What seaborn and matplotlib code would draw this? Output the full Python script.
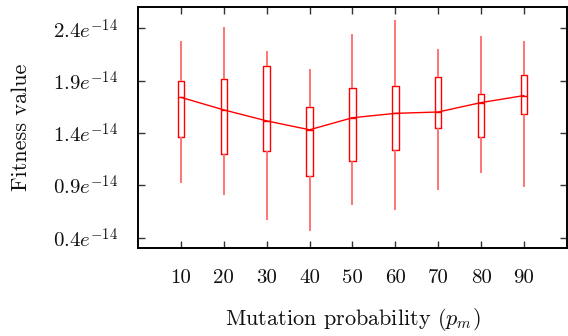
import numpy as np
import pandas as pd
import matplotlib
matplotlib.use("Agg")
import matplotlib.pyplot as plt
from matplotlib.ticker import FuncFormatter
import seaborn as sns

# Data (values in units of 1e-14)
pm = [10, 20, 30, 40, 50, 60, 70, 80, 90]
whisk_low = [0.92, 0.81, 0.57, 0.46, 0.71, 0.66, 0.85, 1.02, 0.88]
q1 = [1.36, 1.20, 1.23, 0.99, 1.13, 1.24, 1.45, 1.36, 1.58]
median = [1.74, 1.62, 1.515, 1.43, 1.545, 1.587, 1.60, 1.69, 1.757]
q3 = [1.90, 1.915, 2.04, 1.65, 1.83, 1.85, 1.935, 1.77, 1.95]
whisk_high = [2.28, 2.41, 2.18, 2.01, 2.35, 2.48, 2.20, 2.33, 2.28]
scale = 1e-14
yticks = [0.4, 0.9, 1.4, 1.9, 2.4]
xticks = [10, 20, 30, 40, 50, 60, 70, 80, 90]

sns.set_theme(style="ticks")
plt.rcParams["font.family"] = "serif"
plt.rcParams["font.serif"] = ["cmr10"]
plt.rcParams["mathtext.fontset"] = "cm"
plt.rcParams["axes.formatter.use_mathtext"] = True
plt.rcParams["axes.unicode_minus"] = False
plt.rcParams["text.color"] = "#111111"
plt.rcParams["axes.labelcolor"] = "#111111"
plt.rcParams["xtick.labelcolor"] = "#111111"
plt.rcParams["ytick.labelcolor"] = "#111111"

rows = []
for x, a, b, c, d, e in zip(pm, whisk_low, q1, median, q3, whisk_high):
    for v in (a, b, c, d, e):
        rows.append({"pm": x, "fitness": v * scale})
df = pd.DataFrame(rows)

fig = plt.figure(figsize=(5.68, 3.36), dpi=100)
ax = fig.add_axes([0.243, 0.262, 0.755, 0.716])

sns.boxplot(data=df, x="pm", y="fitness", native_scale=True, whis=(0, 100),
            width=0.15, fill=False, color="#ff0000", linecolor="#ff0000",
            linewidth=1.0, showcaps=False, showfliers=False,
            boxprops=dict(color="#ff0000", linewidth=1.0),
            whiskerprops=dict(color="#ff6a6a", linewidth=1.3),
            medianprops=dict(color="#ff0000", linewidth=1.0),
            ax=ax)
sns.lineplot(x=pm, y=np.array(median) * scale, color="#ff0000", linewidth=1.0, ax=ax)

ax.set_xlim(0, 100)
ax.set_ylim(0.3 * scale, 2.6 * scale)
ax.set_xticks(xticks)
ax.set_xticklabels([str(t) for t in xticks])
ax.set_yticks(np.array(yticks) * scale)
ax.yaxis.set_major_formatter(FuncFormatter(lambda v, p: r"$%.1fe^{-14}$" % (v / scale)))

ax.tick_params(direction="in", length=5, width=1.0, color="#333333",
               top=True, right=True, labelsize=15, pad=14)
ax.tick_params(axis="x", pad=15)
for s in ax.spines.values():
    s.set_linewidth(1.4)
    s.set_color("black")
    s.set_visible(True)

ax.set_xlabel(r"Mutation probability ($p_m$)", fontsize=16, labelpad=14)
ax.set_ylabel("Fitness value", fontsize=16, labelpad=16)

fig.savefig("out.png", dpi=100)
